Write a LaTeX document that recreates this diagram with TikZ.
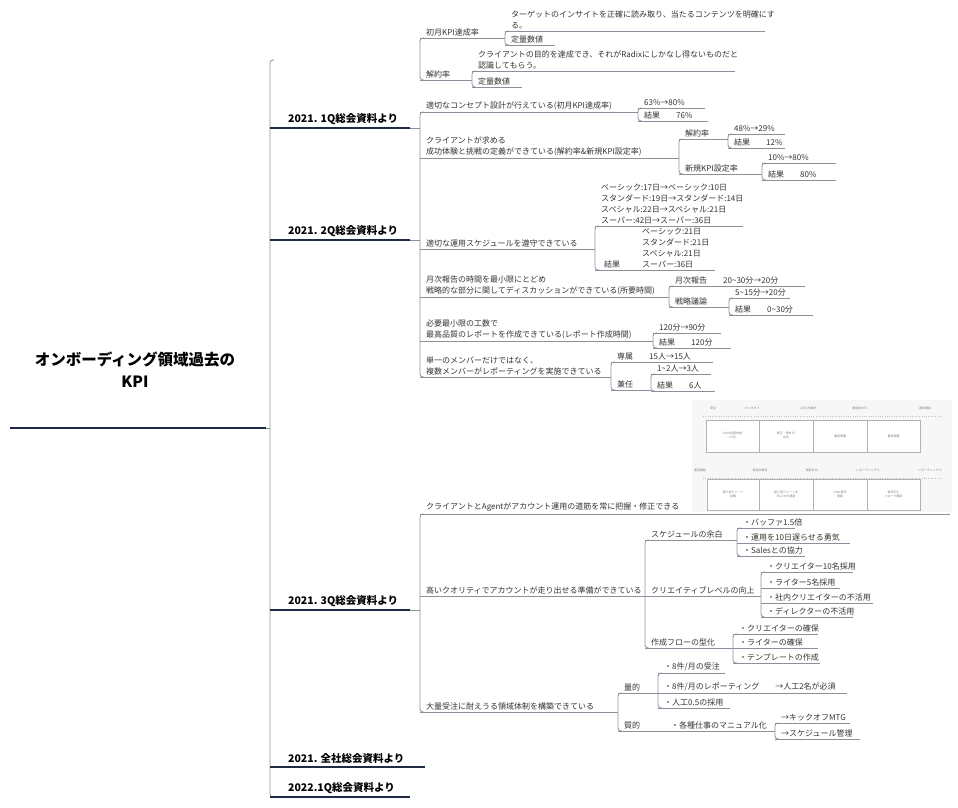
\documentclass[tikz,border=0pt]{standalone}
\usepackage{fontspec}
\setmainfont{Noto Sans CJK JP}
\definecolor{ln}{HTML}{8A909C}
\definecolor{navy}{HTML}{1F2A44}
\definecolor{tx}{HTML}{333333}
\tikzset{
 lnk/.style={draw=ln,line width=0.8pt,rounded corners=3pt},
 tx/.style={inner sep=0pt,font=\fontsize{8}{11}\selectfont,text=tx,align=left},
 lone/.style={inner sep=0pt,font=\bfseries\fontsize{10.5}{12}\selectfont,text=black},
 shot/.style={draw=gray!60,fill=white,line width=0.4pt},
 tiny/.style={inner sep=0pt,font=\fontsize{3}{4}\selectfont,text=gray,align=center}
}
\newcommand\myU[5]{\draw[lnk] (#1,#3)--(#2,#3); \node[tx,anchor=south west] (#4) at (#1+6,#3-2) {#5};}
\newcommand\myB[3]{\draw[lnk] (#1+4,#2)--(#1,#2)--(#1,#3)--(#1+4,#3);}
\newcommand\myL[4]{\draw[navy,line width=1.4pt] (270,#1)--(#2,#1); \node[lone,anchor=south west] (#3) at (288,#1-3) {#4};}
\begin{document}
\begin{tikzpicture}[x=1pt,y=-1pt]
\useasboundingbox (0,0) rectangle (958,807);
% root
\node[inner sep=0pt,font=\bfseries\fontsize{15.5}{22}\selectfont,align=center] (root) at (135,370) {オンボーディング領域過去の\\KPI};
\draw[navy,line width=1.8pt] (10,428)--(266,428);
\draw[lnk] (266,428)--(270,428);
\draw[lnk] (274,60)--(270,60)--(270,797)--(274,797);
\myL{128}{410}{l1}{2021. 1Q総会資料より}
\myL{240}{410}{l2}{2021. 2Q総会資料より}
\myL{610}{410}{l3}{2021. 3Q総会資料より}
\myL{767}{425}{l4}{2021. 全社総会資料より}
\myL{797}{410}{l5}{2022.1Q総会資料より}
% 1Q
\draw[lnk] (410,128)--(420,128);
\draw[lnk] (424,38)--(420,38)--(420,80)--(424,80);
\myU{420}{505}{38}{a1}{初月KPI達成率}
\myB{505}{31}{45}
\myU{505}{765}{31}{a11}{ターゲットのインサイトを正確に読み取り、当たるコンテンツを明確にす\\る。}
\myU{505}{555}{45}{a12}{定量数値}
\myU{420}{472}{80}{a2}{解約率}
\myB{472}{71}{87}
\myU{472}{735}{71}{a21}{クライアントの目的を達成でき、それがRadixにしかなし得ないものだと\\認識してもらう。}
\myU{472}{522}{87}{a22}{定量数値}
% 2Q
\draw[lnk] (410,240)--(420,240);
\draw[lnk] (424,112)--(420,112)--(420,377)--(424,377);
\myU{420}{638}{112}{b1}{適切なコンセプト設計が行えている(初月KPI達成率)}
\myB{638}{108}{121}
\myU{638}{705}{108}{b11}{63\%→80\%}
\myU{638}{708}{121}{b12}{結果\quad\quad 76\%}
\myU{420}{679}{158}{b2}{クライアントが求める\\成功体験と挑戦の定義ができている(解約率\&新規KPI設定率)}
\myB{679}{139}{174}
\myU{679}{728}{139}{b21}{解約率}
\myB{728}{134}{148}
\myU{728}{785}{134}{b211}{48\%→29\%}
\myU{728}{785}{148}{b212}{結果\quad\quad 12\%}
\myU{679}{762}{174}{b22}{新規KPI設定率}
\myB{762}{163}{180}
\myU{762}{836}{163}{b221}{10\%→80\%}
\myU{762}{836}{180}{b222}{結果\quad\quad 80\%}
\myU{420}{595}{249}{b3}{適切な運用スケジュールを遵守できている}
\myB{595}{226}{270}
\myU{595}{743}{226}{b31}{ベーシック:17日→ベーシック:10日\\スタンダード:19日→スタンダード:14日\\スペシャル:22日→スペシャル:21日\\スーパー:42日→スーパー:36日}
\draw[lnk] (595,270)--(715,270);
\node[tx,anchor=south west] (b32) at (604,268) {結果};
\node[tx,anchor=south west] (b321) at (642,268) {ベーシック:21日\\スタンダード:21日\\スペシャル:21日\\スーパー:36日};
\myU{420}{669}{297}{b4}{月次報告の時間を最小限にとどめ\\戦略的な部分に関してディスカッションができている(所要時間)}
\myB{669}{286}{307}
\myU{669}{805}{286}{b41}{月次報告\quad\quad 20\textasciitilde30分→20分}
\myU{669}{729}{307}{b42}{戦略議論}
\myB{729}{298}{315}
\myU{729}{790}{298}{b421}{5\textasciitilde15分→20分}
\myU{729}{813}{315}{b422}{結果\quad\quad 0\textasciitilde30分}
\myU{420}{653}{341}{b5}{必要最小限の工数で\\最高品質のレポートを作成できている(レポート作成時間)}
\myB{653}{333}{348}
\myU{653}{721}{333}{b51}{120分→90分}
\myU{653}{731}{348}{b52}{結果\quad\quad 120分}
\myU{420}{611}{377}{b6}{単一のメンバーだけではなく、\\複数メンバーがレポーティングを実施できている}
\myB{611}{362}{390}
\myU{611}{713}{362}{b61}{専属\quad\quad 15人→15人}
\myU{611}{651}{390}{b62}{兼任}
\myB{651}{374}{391}
\myU{651}{711}{374}{b621}{1\textasciitilde2人→3人}
\myU{651}{715}{391}{b622}{結果\quad\quad 6人}
% screenshot
\fill[gray!6] (692,400) rectangle (952,512);
\foreach \x/\t in {713/受注,752/キックオフ,808/CRI引き継ぎ,860/運用前MTG,925/運用開始}{\node[tiny] at (\x,408) {\t};}
\draw[gray!50,line width=0.3pt,dotted] (703,416)--(940,416);
\foreach \a/\b/\t in {706/759/CMの初稿作成\\(7日),759/813/修正・再MTG\\(5日),813/867/運用準備,867/920/最終調整}{\draw[shot] (\a,420) rectangle (\b,452); \node[tiny] at ({(\a+\b)/2},436) {\t};}
\foreach \x/\t in {700/運用開始,760/毎週水曜日,812/更新MTG,868/レポーティング①,930/レポーティング②}{\node[tiny] at (\x,470) {\t};}
\draw[gray!50,line width=0.3pt,dotted] (703,478)--(940,478);
\foreach \a/\b/\t in {707/759/振り返りシート\\記載,759/813/振り返りシートを\\元にCMを更新,813/867/CMの各所\\更新,867/920/毎月同じ\\フローで更新}{\draw[shot] (\a,479) rectangle (\b,510); \node[tiny] at ({(\a+\b)/2},494.5) {\t};}
% 3Q
\draw[lnk] (410,610)--(420,610);
\draw[lnk] (424,514)--(420,514)--(420,712)--(424,712);
\myU{420}{950}{514}{c1}{クライアントとAgentがアカウント運用の道筋を常に把握・修正できる}
\myU{420}{645}{596}{c2}{高いクオリティでアカウントが走り出せる準備ができている}
\myB{645}{540}{648}
\myU{645}{737}{540}{c21}{スケジュールの余白}
\myB{737}{528}{556}
\myU{737}{795}{528}{c211}{・バッファ1.5倍}
\myU{737}{850}{543}{c212}{・運用を10日遅らせる勇気}
\myU{737}{805}{556}{c213}{・Salesとの協力}
\myU{645}{761}{596}{c22}{クリエイティブレベルの向上}
\myB{761}{572}{617}
\myU{761}{853}{572}{c221}{・クリエイター10名採用}
\myU{761}{840}{588}{c222}{・ライター5名採用}
\myU{761}{873}{603}{c223}{・社内クリエイターの不活用}
\myU{761}{853}{617}{c224}{・ディレクターの不活用}
\myU{645}{733}{648}{c23}{作成フローの型化}
\myB{733}{634}{663}
\myU{733}{818}{634}{c231}{・クリエイターの確保}
\myU{733}{818}{648}{c232}{・ライターの確保}
\myU{733}{820}{663}{c233}{・テンプレートの作成}
\myU{420}{618}{712}{c3}{大量受注に耐えうる領域体制を構築できている}
\myB{618}{693}{731}
\myU{618}{658}{693}{c31}{量的}
\myB{658}{673}{708}
\myU{658}{725}{673}{c311}{・8件/月の受注}
\myU{658}{847}{693}{c312}{・8件/月のレポーティング\quad\quad →人工2名が必須}
\myU{658}{730}{708}{c313}{・人工0.5の採用}
\myU{618}{665}{731}{c32}{質的}
\myU{665}{775}{731}{c321}{・各種仕事のマニュアル化}
\myB{775}{723}{739}
\myU{775}{850}{723}{c3211}{→キックオフMTG}
\myU{775}{860}{739}{c3212}{→スケジュール管理}
\end{tikzpicture}
\end{document}
